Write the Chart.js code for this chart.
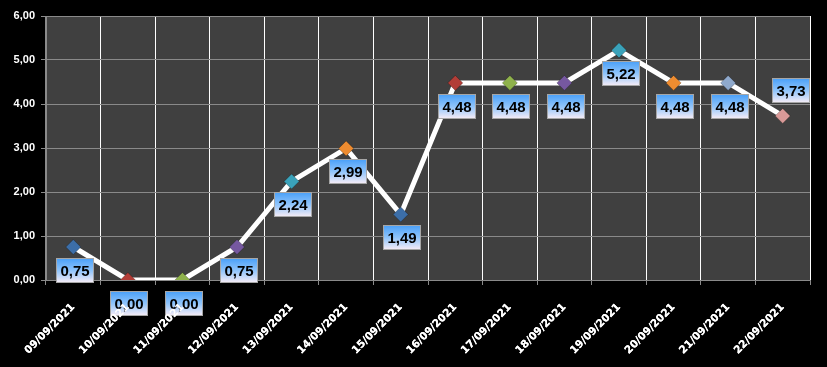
<!DOCTYPE html>
<html>
<head>
<meta charset="utf-8">
<script src="https://cdn.jsdelivr.net/npm/chart.js@4.4.1/dist/chart.umd.min.js"></script>
<style>
  body { margin: 0; background: #000; }
  canvas { display: block; }
</style>
</head>
<body>
<canvas id="line" width="827" height="367"></canvas>
<script>
var days = ['09/09/2021', '10/09/2021', '11/09/2021', '12/09/2021', '13/09/2021', '14/09/2021', '15/09/2021',
            '16/09/2021', '17/09/2021', '18/09/2021', '19/09/2021', '20/09/2021', '21/09/2021', '22/09/2021'];
var values = [0.75, 0, 0, 0.75, 2.24, 2.99, 1.49, 4.48, 4.48, 4.48, 5.22, 4.48, 4.48, 3.73];
var yTicks = [0, 1, 2, 3, 4, 5, 6];
var markerColors = ['#3c6ea8', '#b23d37', '#8fb24c', '#7658a0', '#3aa2ba', '#ee8c30',
                    '#3c6ea8', '#b23d37', '#8fb24c', '#7658a0', '#3aa2ba', '#ee8c30',
                    '#8fa9cc', '#d99a98'];

function fmt(v) {
    return v.toFixed(2).replace('.', ',');
}

// background for the whole canvas and the plot area
var backPlugin = {
    id: 'back',
    beforeDraw: function (chart) {
        var c = chart.ctx, a = chart.chartArea;
        c.save();
        c.fillStyle = '#000000';
        c.fillRect(0, 0, chart.width, chart.height);
        c.fillStyle = '#404040';
        c.fillRect(a.left, a.top, a.right - a.left, a.bottom - a.top);
        c.restore();
    }
};

// the value boxes, then the x labels again so they sit on top like in excel
var boxPlugin = {
    id: 'boxes',
    afterDatasetsDraw: function (chart) {
        var c = chart.ctx;
        var pts = chart.getDatasetMeta(0).data;
        c.save();
        pts.forEach(function (pt, i) {
            var dx = 1, dy = 23;
            if (i == pts.length - 1) { dx = 8; dy = -26; }
            var w = 37, h = 24;
            var x0 = Math.round(pt.x + dx - w / 2) + 0.5;
            var y0 = Math.round(pt.y + dy - h / 2) + 0.5;
            var g = c.createLinearGradient(0, y0, 0, y0 + h);
            g.addColorStop(0, '#4aa0f8');
            g.addColorStop(0.5, '#8fc4fb');
            g.addColorStop(1, '#f6ecf6');
            c.fillStyle = g;
            c.fillRect(x0, y0, w, h);
            c.strokeStyle = '#a6a6a6';
            c.lineWidth = 1;
            c.strokeRect(x0, y0, w, h);
            c.fillStyle = '#000000';
            c.font = 'bold 15px "Liberation Sans", Arial, sans-serif';
            c.textAlign = 'center';
            c.textBaseline = 'middle';
            c.fillText(fmt(values[i]), x0 + w / 2, y0 + h / 2 + 1);
        });
        c.restore();
    },
    afterDraw: function (chart) {
        chart.scales.x.drawLabels(chart.chartArea);
    }
};

var ctx = document.getElementById('line');
var myChart = new Chart(ctx, {
    type: 'line',
    data: {
        labels: days,
        datasets: [{
            data: values,
            borderColor: '#ffffff',
            borderWidth: 5,
            tension: 0,
            pointStyle: 'rectRot',
            pointRadius: 7.5,
            pointHoverRadius: 7.5,
            pointBackgroundColor: markerColors,
            pointBorderColor: 'rgba(0,0,0,0.25)',
            pointBorderWidth: 1
        }]
    },
    options: {
        responsive: false,
        animation: false,
        events: [],
        layout: { padding: { top: 16, right: 17, left: 0, bottom: 0 } },
        plugins: { legend: { display: false }, tooltip: { enabled: false } },
        scales: {
            x: {
                offset: true,
                grid: {
                    offset: true,
                    color: function (c) {
                        if (c.index == 0) return '#8a8a8a';
                        if (c.index == days.length) return 'rgba(0,0,0,0)';
                        return '#ffffff';
                    },
                    lineWidth: 1,
                    tickLength: 5,
                    tickColor: '#8a8a8a'
                },
                border: { color: '#8a8a8a' },
                ticks: {
                    color: '#ffffff',
                    autoSkip: false,
                    minRotation: 45,
                    maxRotation: 45,
                    padding: 16,
                    font: { family: '"DejaVu Sans", sans-serif', size: 10.5, weight: 'bold' }
                },
                afterFit: function (s) { s.height = 87; }
            },
            y: {
                min: 0,
                max: 6,
                afterBuildTicks: function (s) {
                    s.ticks = yTicks.map(function (v) { return { value: v }; });
                },
                grid: { color: '#8a8a8a', lineWidth: 1, tickLength: 5, tickColor: '#8a8a8a' },
                border: { color: '#8a8a8a' },
                ticks: {
                    color: '#ffffff',
                    padding: 6,
                    font: { family: '"Liberation Sans", Arial, sans-serif', size: 11, weight: 'bold' },
                    callback: function (v) { return fmt(v); }
                },
                afterFit: function (s) { s.width = 46; }
            }
        }
    },
    plugins: [backPlugin, boxPlugin]
});
</script>
</body>
</html>
